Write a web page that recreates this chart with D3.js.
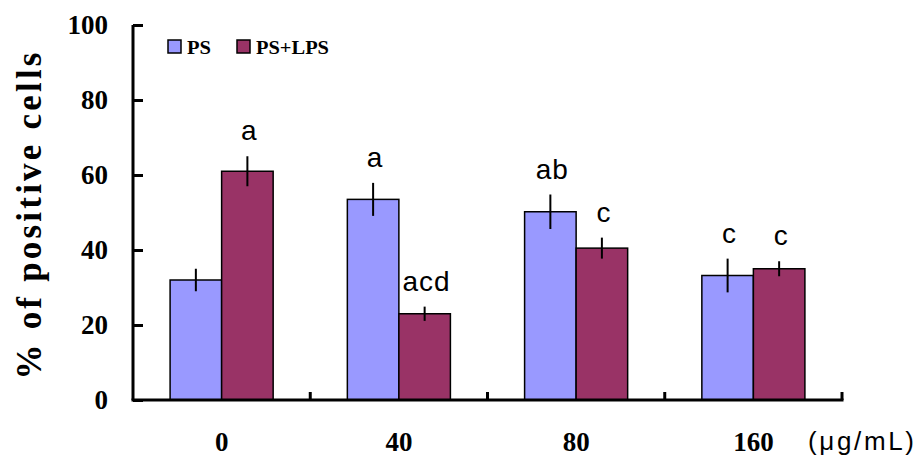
<!DOCTYPE html>
<html>
<head>
<meta charset="utf-8">
<script src="https://cdn.jsdelivr.net/npm/d3@7/dist/d3.min.js"></script>
<style>
  html, body { margin: 0; padding: 0; background: #fff; }
  svg { display: block; }
</style>
</head>
<body>
<svg id="chart" width="918" height="458"></svg>
<script>
// Concentrations (µg/mL)
const categories = ["0", "40", "80", "160"];
const seriesNames = ["PS", "PS+LPS"];
// % of positive cells, mean and error per concentration
const psValues = [32, 53.5, 50.2, 33.2];
const psErrors = [3, 4.4, 4.6, 4.5];
const lpsValues = [61, 23, 40.5, 35];
const lpsErrors = [4, 1.9, 2.8, 2];
// Significance letters per bar
const psLetters = ["", "a", "ab", "c"];
const lpsLetters = ["a", "acd", "c", "c"];
const yTicks = [0, 20, 40, 60, 80, 100];

const colors = { "PS": "#9999ff", "PS+LPS": "#993366" };
const serifBold = "'Liberation Serif', 'Times New Roman', serif";
const sans = "'Liberation Sans', Arial, sans-serif";

const svg = d3.select("#chart");
const plot = { left: 133, right: 842, top: 25, bottom: 400 };

const rows = [];
categories.forEach((c, i) => {
  rows.push({ cat: c, series: "PS", value: psValues[i], err: psErrors[i], letter: psLetters[i] });
  rows.push({ cat: c, series: "PS+LPS", value: lpsValues[i], err: lpsErrors[i], letter: lpsLetters[i] });
});

const x0 = d3.scaleBand().domain(categories).range([plot.left, plot.right]).paddingInner(0).paddingOuter(0);
const x1 = d3.scaleBand().domain(seriesNames).range([0, x0.bandwidth()]).paddingInner(0).paddingOuter(0.72);
const y = d3.scaleLinear().domain([0, 100]).range([plot.bottom, plot.top]);

// Bars
svg.append("g").selectAll("rect").data(rows).join("rect")
  .attr("x", d => x0(d.cat) + x1(d.series))
  .attr("y", d => y(d.value))
  .attr("width", x1.bandwidth())
  .attr("height", d => y(0) - y(d.value))
  .attr("fill", d => colors[d.series])
  .attr("stroke", "#000")
  .attr("stroke-width", 1.5);

// Error bars (no caps)
svg.append("g").selectAll("line").data(rows).join("line")
  .attr("x1", d => x0(d.cat) + x1(d.series) + x1.bandwidth() / 2)
  .attr("x2", d => x0(d.cat) + x1(d.series) + x1.bandwidth() / 2)
  .attr("y1", d => y(d.value + d.err))
  .attr("y2", d => y(d.value - d.err))
  .attr("stroke", "#000")
  .attr("stroke-width", 2);

// Significance letters
svg.append("g").selectAll("text").data(rows.filter(d => d.letter)).join("text")
  .attr("x", d => x0(d.cat) + x1(d.series) + x1.bandwidth() / 2 + 2)
  .attr("y", d => y(d.value + d.err) - 16)
  .attr("text-anchor", "middle")
  .attr("font-family", sans)
  .attr("font-size", 28)
  .attr("letter-spacing", 1)
  .attr("fill", "#000")
  .text(d => d.letter);

// Y axis
const yAxis = svg.append("g").attr("transform", `translate(${plot.left},0)`)
  .call(d3.axisRight(y).tickValues(yTicks).tickSize(10).tickFormat(""));
yAxis.select(".domain").attr("d", `M0,${plot.top}V${plot.bottom}`).attr("stroke-width", 3);
yAxis.selectAll(".tick line").attr("stroke-width", 3);

svg.append("g").selectAll("text").data(yTicks).join("text")
  .attr("x", 108)
  .attr("y", d => y(d) + 9)
  .attr("text-anchor", "end")
  .attr("font-family", serifBold)
  .attr("font-weight", "bold")
  .attr("font-size", 27)
  .text(d => d);

// X axis with boundary ticks pointing up
const boundaries = categories.map(c => x0(c)).concat([plot.right]).slice(1);
const xg = svg.append("g");
xg.append("line")
  .attr("x1", plot.left - 1.5).attr("x2", plot.right + 1.5)
  .attr("y1", plot.bottom).attr("y2", plot.bottom)
  .attr("stroke", "#000").attr("stroke-width", 3);
xg.selectAll("line.tk").data(boundaries).join("line").attr("class", "tk")
  .attr("x1", d => d).attr("x2", d => d)
  .attr("y1", plot.bottom).attr("y2", plot.bottom - 8)
  .attr("stroke", "#000").attr("stroke-width", 3);

svg.append("g").selectAll("text").data(categories).join("text")
  .attr("x", d => x0(d) + x0.bandwidth() / 2)
  .attr("y", 451)
  .attr("text-anchor", "middle")
  .attr("font-family", serifBold)
  .attr("font-weight", "bold")
  .attr("font-size", 27)
  .text(d => d);

svg.append("text")
  .attr("x", 808).attr("y", 450)
  .attr("font-family", sans)
  .attr("font-size", 26)
  .attr("textLength", 106)
  .attr("lengthAdjust", "spacing")
  .text("(μg/mL)");

// Y axis title
svg.append("text")
  .attr("transform", "translate(41,216) rotate(-90)")
  .attr("text-anchor", "middle")
  .attr("font-family", serifBold)
  .attr("font-weight", "bold")
  .attr("font-size", 35)
  .attr("textLength", 327)
  .attr("lengthAdjust", "spacing")
  .text("% of positive cells");

// Legend
const legend = svg.append("g");
const legendX = [168, 237];
const legendTextW = [24, 73];
seriesNames.forEach((s, i) => {
  legend.append("rect")
    .attr("x", legendX[i]).attr("y", 40)
    .attr("width", 13).attr("height", 13)
    .attr("fill", colors[s]).attr("stroke", "#000").attr("stroke-width", 1.5);
  legend.append("text")
    .attr("x", legendX[i] + 19).attr("y", 54)
    .attr("font-family", serifBold)
    .attr("font-weight", "bold")
    .attr("font-size", 19)
    .attr("textLength", legendTextW[i])
    .attr("lengthAdjust", "spacingAndGlyphs")
    .text(s);
});
</script>
</body>
</html>
